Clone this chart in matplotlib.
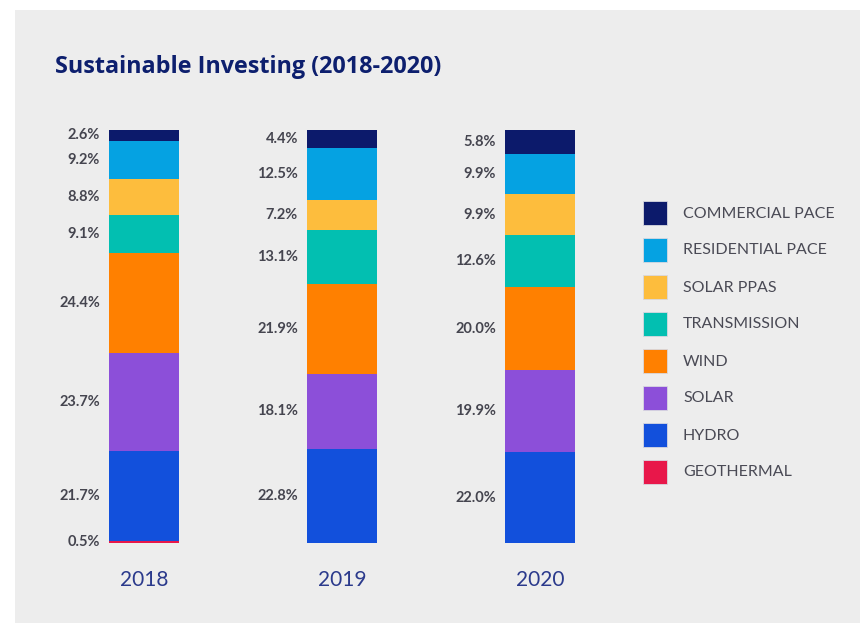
import matplotlib.pyplot as plt
from matplotlib.patches import Rectangle
import numpy as np

# Data
years = ["2018", "2019", "2020"]
categories = ["COMMERCIAL PACE", "RESIDENTIAL PACE", "SOLAR PPAS", "TRANSMISSION",
              "WIND", "SOLAR", "HYDRO", "GEOTHERMAL"]
colors = ["#0c1a6b", "#05a2e2", "#fdbd3d", "#02bfb1",
          "#ff8000", "#8c4fd9", "#1250dc", "#e8174a"]
# shares per category (top -> bottom), one value per year
commercial = [2.6, 4.4, 5.8]
residential = [9.2, 12.5, 9.9]
solar_ppas = [8.8, 7.2, 9.9]
transmission = [9.1, 13.1, 12.6]
wind = [24.4, 21.9, 20.0]
solar = [23.7, 18.1, 19.9]
hydro = [21.7, 22.8, 22.0]
geothermal = [0.5, 0.0, 0.0]

series = [commercial, residential, solar_ppas, transmission, wind, solar, hydro, geothermal]

W, H = 860, 623
fig = plt.figure(figsize=(W / 100, H / 100), dpi=100)
fig.patch.set_facecolor("white")

def fx(x):
    return x / W

def fy(y):
    return 1 - y / H

# gray panel as a background axes
bg = fig.add_axes([fx(15), 0, 1 - fx(15), fy(10)], zorder=0)
bg.set_facecolor("#ededed")
bg.axis("off")
bg.add_patch(Rectangle((0, 0), 1, 1, transform=bg.transAxes, facecolor="#ededed",
                       edgecolor="none"))

fig.text(fx(55), fy(67), "Sustainable Investing (2018-2020)", fontsize=16.8,
         fontweight="bold", color="#0d1f6e", family="Open Sans", va="center", ha="left",
         zorder=5)

# bars axes
ax = fig.add_axes([fx(45), fy(543), fx(639) - fx(45), (543 - 130) / H], zorder=2)
ax.set_facecolor("none")
x = np.arange(len(years))
bw = 70 / 198
bottom = np.zeros(len(years))
# stack from bottom (geothermal) up
for vals, col in zip(series[::-1], colors[::-1]):
    vals = np.array(vals)
    ax.bar(x, vals, bw, bottom=bottom, color=col, linewidth=0)
    for i, v in enumerate(vals):
        if v > 0:
            ax.text(i - bw / 2 - 0.045, bottom[i] + v / 2, f"{v:.1f}%", ha="right", va="center",
                    fontsize=10.5, fontweight="bold", color="#45454f", family="Lato")
    bottom += vals
ax.set_xlim(-0.5, 2.5)
ax.set_ylim(0, 100)
ax.axis("off")

for i, yr in enumerate(years):
    ax.text(i, -9, yr, ha="center", va="center", fontsize=15, color="#2b3a8c",
            family="Lato", clip_on=False)

# legend
for k, (name, col) in enumerate(zip(categories, colors)):
    top = 201 + k * 37
    fig.patches.append(Rectangle((fx(643), fy(top + 24)), fx(24), 24 / H,
                                 transform=fig.transFigure, facecolor=col,
                                 edgecolor="#d8d8e0", linewidth=0.6, zorder=5))
    fig.text(fx(683), fy(top + 12.5), name, fontsize=11.5, color="#4a4a55",
             family="Lato", va="center", ha="left", zorder=5)

fig.savefig("out.png", dpi=100)
